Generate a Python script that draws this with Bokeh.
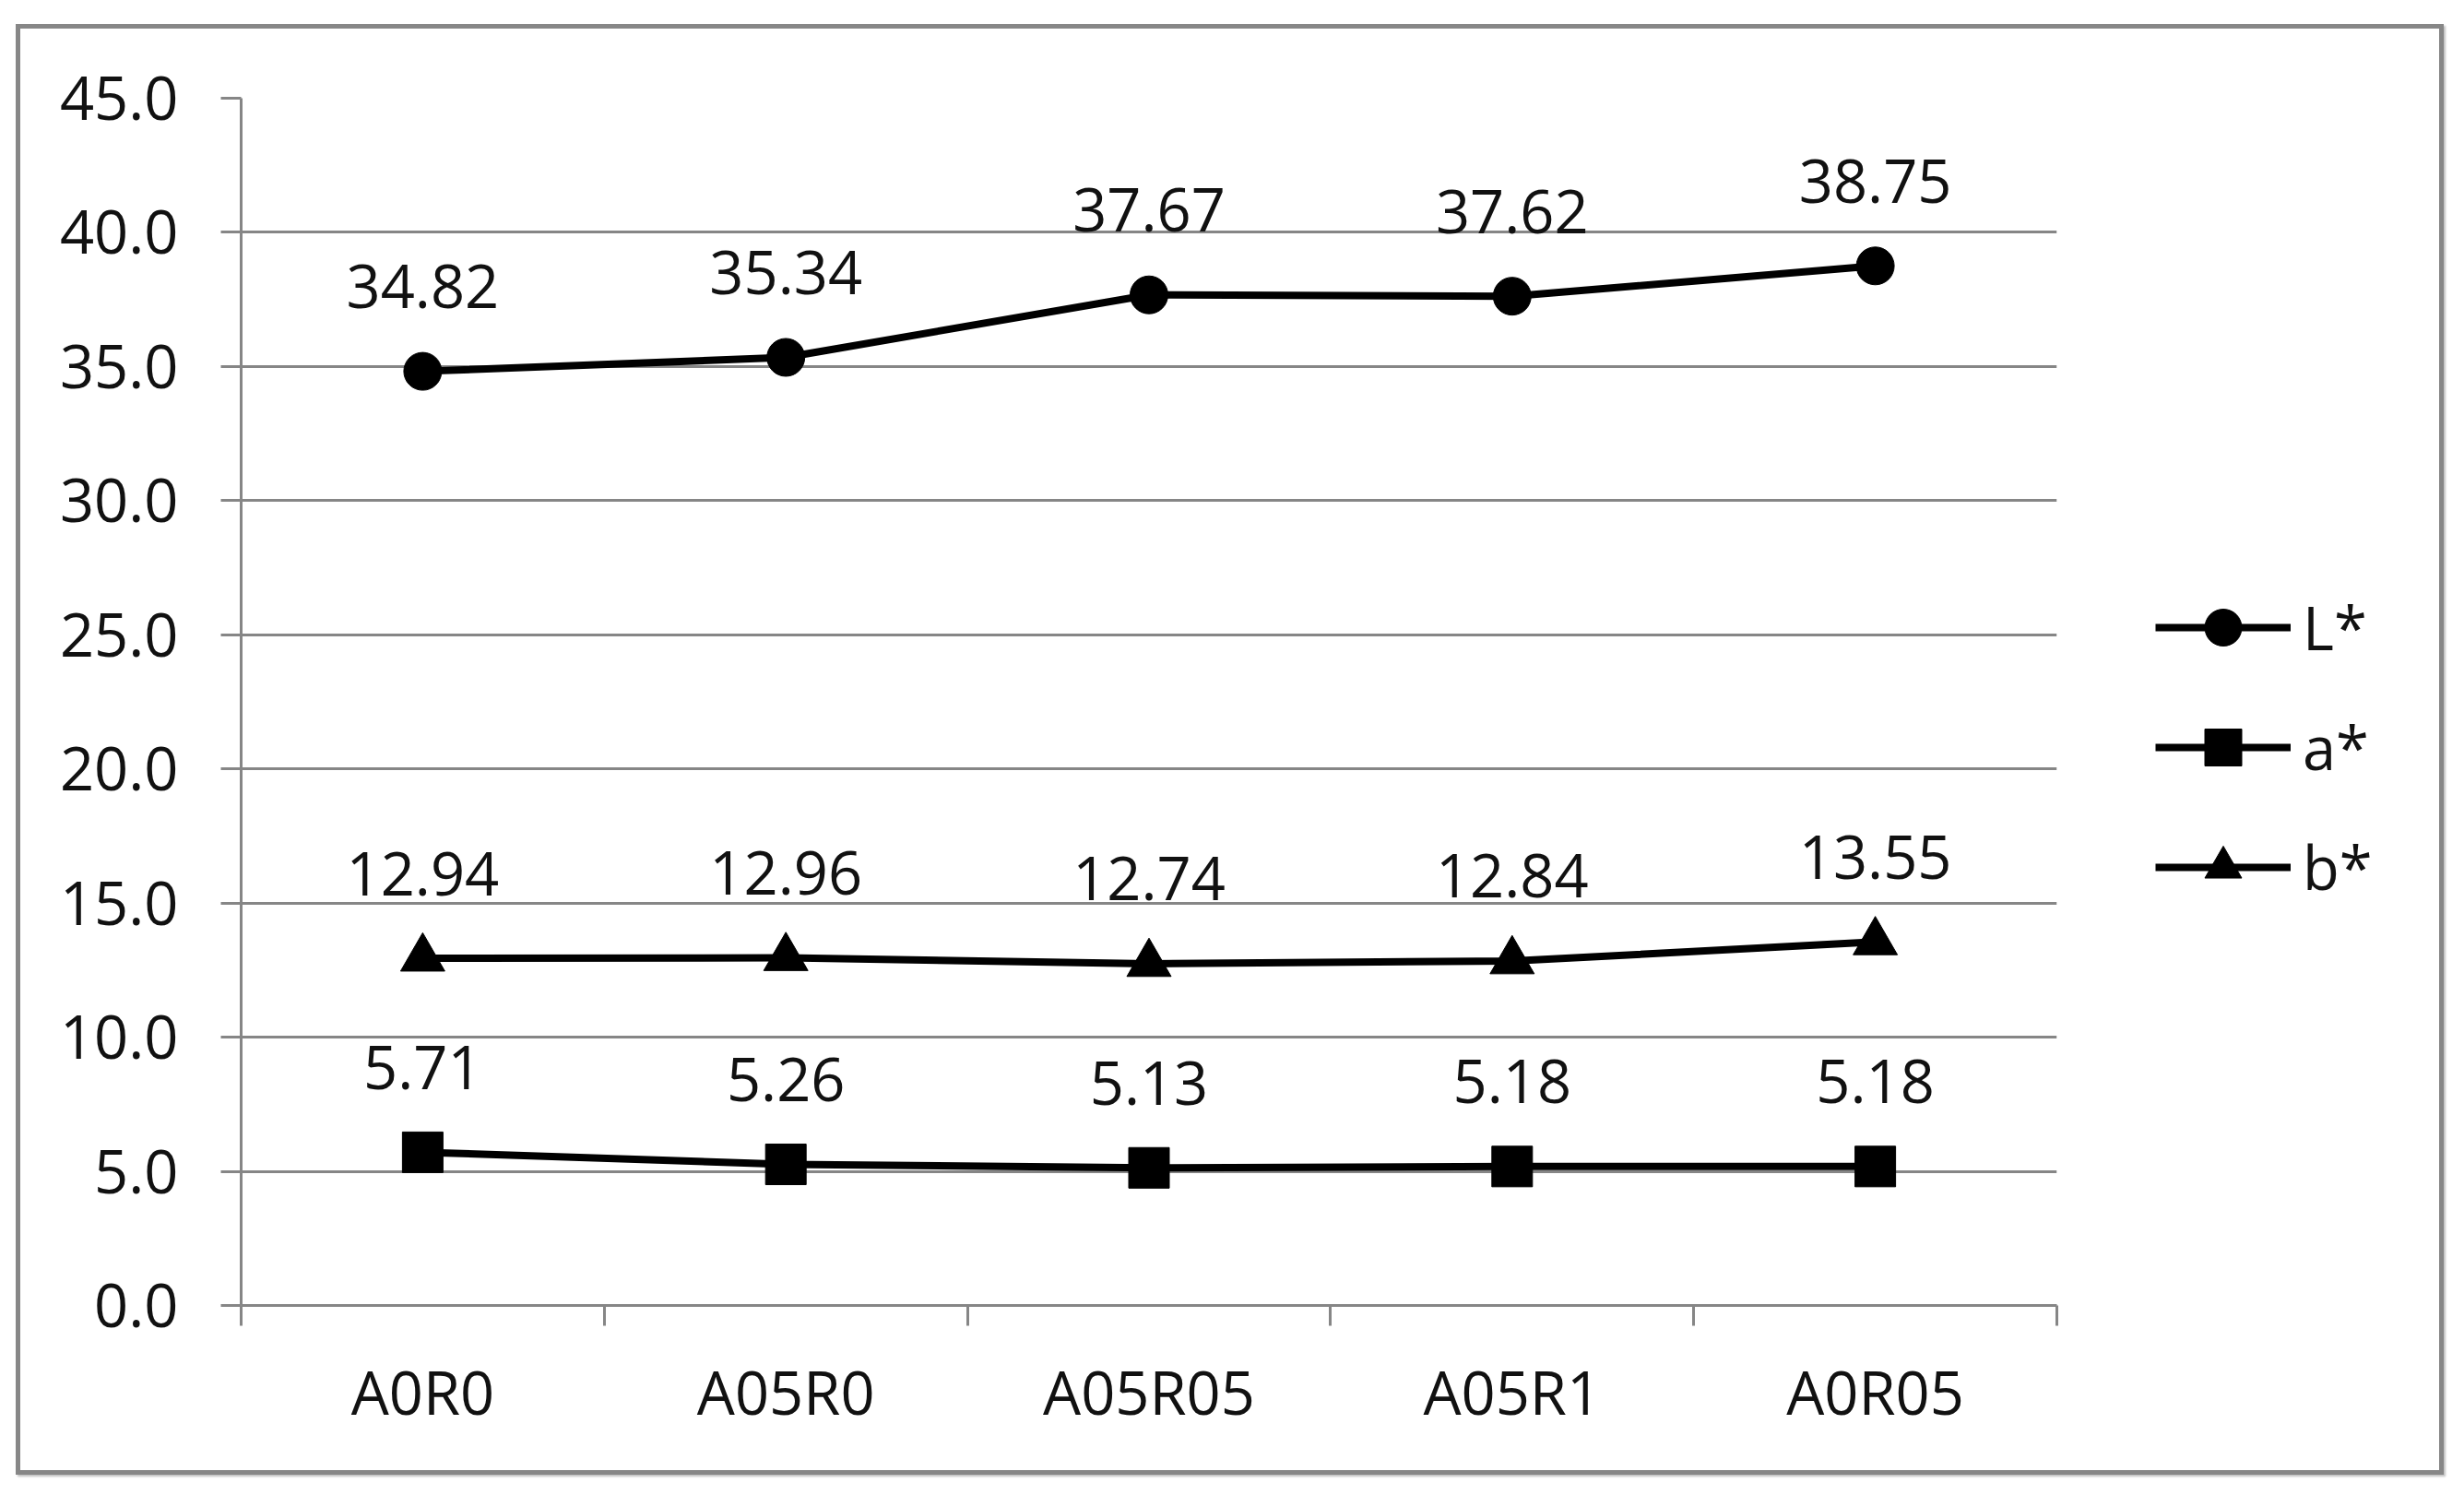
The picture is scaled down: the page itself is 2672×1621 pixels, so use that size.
from bokeh.plotting import figure
from bokeh.models import (FactorRange, Range1d, LinearAxis, FixedTicker, PrintfTickFormatter,
                          Legend, LegendItem, Grid, ColumnDataSource, InlineStyleSheet)
from bokeh.core.properties import value
from bokeh.embed import file_html
from bokeh.resources import INLINE

categories = ["A0R0", "A05R0", "A05R05", "A05R1", "A0R05"]
L_star = [34.82, 35.34, 37.67, 37.62, 38.75]
a_star = [5.71, 5.26, 5.13, 5.18, 5.18]
b_star = [12.94, 12.96, 12.74, 12.84, 13.55]
series_names = ["L*", "a*", "b*"]
y_ticks = [0, 5, 10, 15, 20, 25, 30, 35, 40, 45]

FONT = "Open Sans"
FS = "65px"
GRAY = "#868686"
TXT = "#111111"
W, H = 2659, 1608

p = figure(width=W, height=H,
           x_range=FactorRange(factors=categories, range_padding=0),
           y_range=Range1d(0, 45),
           output_backend="svg", toolbar_location=None,
           x_axis_location=None, y_axis_location=None,
           min_border_left=261, min_border_right=429,
           min_border_top=106, min_border_bottom=193)
p.outline_line_color = None
p.background_fill_color = "white"
p.border_fill_color = "white"
p.center = [r for r in p.center if not isinstance(r, Grid)]

# outer chart border (drawn over the canvas)
p.stylesheets = [InlineStyleSheet(css="""
:host { position: relative; }
:host::after { content: ""; position: absolute; left: 17px; top: 26px; right: 9px; bottom: 9px;
  border: 5px solid #878787; box-shadow: 2px 2px 2px rgba(0,0,0,0.25);
  pointer-events: none; z-index: 100; }
""")]

# y axis
yticker = FixedTicker(ticks=y_ticks)
yaxis = LinearAxis(ticker=yticker, formatter=PrintfTickFormatter(format="%.1f"))
yaxis.axis_line_color = GRAY
yaxis.axis_line_width = 3
yaxis.major_tick_line_color = GRAY
yaxis.major_tick_line_width = 3
yaxis.major_tick_in = 0
yaxis.major_tick_out = 22
yaxis.minor_tick_line_color = None
yaxis.major_label_standoff = 46
yaxis.major_label_text_font = FONT
yaxis.major_label_text_font_size = FS
yaxis.major_label_text_color = TXT
p.add_layout(yaxis, "left")

# x axis: labels at category centres, ticks at category boundaries
n = len(categories)
centers = [i + 0.5 for i in range(n)]
bounds = [float(i) for i in range(n + 1)]
xticker = FixedTicker(ticks=centers, minor_ticks=bounds)
xaxis = LinearAxis(ticker=xticker)
xaxis.major_label_overrides = {c: cat for c, cat in zip(centers, categories)}
xaxis.axis_line_color = GRAY
xaxis.axis_line_width = 3
xaxis.major_tick_line_color = None
xaxis.major_tick_in = 0
xaxis.major_tick_out = 22
xaxis.minor_tick_line_color = GRAY
xaxis.minor_tick_line_width = 3
xaxis.minor_tick_in = 0
xaxis.minor_tick_out = 22
xaxis.major_label_standoff = 27
xaxis.major_label_text_font = FONT
xaxis.major_label_text_font_size = FS
xaxis.major_label_text_color = TXT
p.add_layout(xaxis, "below")

p.add_layout(Grid(dimension=1, ticker=yticker, grid_line_color=GRAY, grid_line_width=3))

series = [L_star, a_star, b_star]
markers = ["circle", "square", "triangle"]
msizes = [41, 44, 48]
items = []
for name, vals, mk, ms in zip(series_names, series, markers, msizes):
    src = ColumnDataSource(dict(x=categories, y=vals, lab=[f"{v:.2f}" for v in vals]))
    ln = p.line("x", "y", source=src, line_color="black", line_width=8, line_join="round")
    sc = p.scatter("x", "y", source=src, marker=mk, size=ms, fill_color="black", line_color="black")
    p.text("x", "y", text="lab", source=src, y_offset=-92, text_align="center",
           text_baseline="middle", text_font=value(FONT), text_font_size=FS, text_color=TXT)
    items.append(LegendItem(label=name, renderers=[ln, sc]))

legend = Legend(items=items, location=(107, 425), orientation="vertical")
legend.glyph_width = 147
legend.glyph_height = 100
legend.spacing = 30
legend.label_standoff = 13
legend.padding = 0
legend.margin = -80
legend.border_line_color = None
legend.background_fill_alpha = 0
legend.label_text_font = FONT
legend.label_text_font_size = FS
legend.label_text_color = TXT
legend.label_height = 100
p.add_layout(legend, "right")

open("out.html", "w").write(file_html(p, INLINE))
